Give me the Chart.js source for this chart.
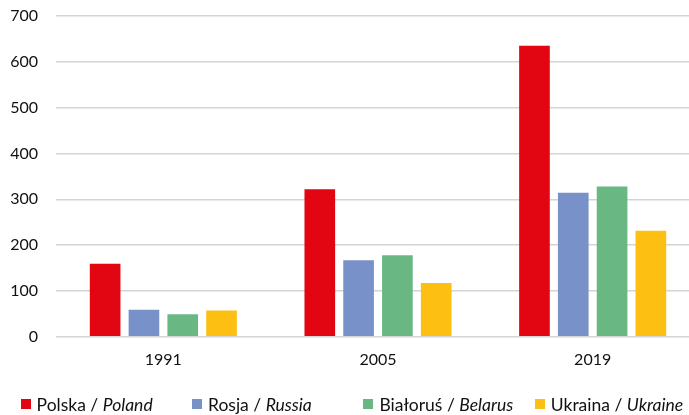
<!DOCTYPE html>
<html>
<head>
<meta charset="utf-8">
<script src="https://cdn.jsdelivr.net/npm/chart.js@4"></script>
<style>
  html, body { margin: 0; padding: 0; background: #fff; overflow: hidden; }
  #wrap { position: relative; width: 700px; height: 415px; }
  #legend { position: absolute; left: 0; top: 394px; height: 20px; font-family: Lato, "Liberation Sans", sans-serif; font-size: 17.5px; color: #111; }
  .item { position: absolute; top: 0; white-space: nowrap; display: flex; align-items: center; height: 20px; }
  .sw { width: 10px; height: 10px; margin-right: 6px; }
</style>
</head>
<body>
<div id="wrap">
  <canvas id="c" width="700" height="415"></canvas>
  <div id="legend"></div>
</div>
<script>
// Years on the category axis
const years = ['1991', '2005', '2019'];

// One series per country
const polska  = [159, 322, 635];
const rosja   = [59, 167, 314];
const bialorus = [49, 178, 328];
const ukraina = [57, 117, 231];

// Legend labels: Polish name, English name in italics
const namesPl = ['Polska', 'Rosja', 'Białoruś', 'Ukraina'];
const namesEn = ['Poland', 'Russia', 'Belarus', 'Ukraine'];
const colors = ['#e20613', '#7891c9', '#69b884', '#fcbf12'];

// Value axis
const yMin = 0, yMax = 700, yStep = 100;

const series = [polska, rosja, bialorus, ukraina];
const fontFamily = 'Lato, "Liberation Sans", sans-serif';

new Chart(document.getElementById('c'), {
  type: 'bar',
  data: {
    labels: years,
    datasets: series.map((vals, i) => ({
      label: namesPl[i] + ' / ' + namesEn[i],
      data: vals,
      backgroundColor: colors[i],
      borderWidth: 0,
      categoryPercentage: 0.723,
      barPercentage: 0.79
    }))
  },
  options: {
    responsive: false,
    animation: false,
    layout: { padding: { top: 16, left: 0, right: 0, bottom: 0 } },
    plugins: { legend: { display: false }, tooltip: { enabled: false } },
    scales: {
      x: {
        grid: { display: false, drawTicks: false },
        border: { display: false },
        ticks: { color: '#111', font: { family: fontFamily, size: 16 }, padding: 14 },
        afterFit: s => { s.height = 78.3; s.paddingLeft = 0; s.paddingRight = 0; }
      },
      y: {
        min: yMin, max: yMax,
        grid: { color: '#d4d4d4', lineWidth: 1.5, drawTicks: false },
        border: { display: false },
        ticks: { stepSize: yStep, color: '#111', font: { family: fontFamily, size: 16 }, padding: 18 },
        afterFit: s => { s.width = 56; s.paddingTop = 0; s.paddingBottom = 0; }
      }
    }
  }
});

// Legend with evenly pitched entries along the bottom
const legend = document.getElementById('legend');
namesPl.forEach((pl, i) => {
  const item = document.createElement('div');
  item.className = 'item';
  item.style.left = (20.6 + i * 171.4) + 'px';
  const sw = document.createElement('span');
  sw.className = 'sw';
  sw.style.background = colors[i];
  const txt = document.createElement('span');
  txt.innerHTML = pl + ' / <i>' + namesEn[i] + '</i>';
  item.appendChild(sw);
  item.appendChild(txt);
  legend.appendChild(item);
});
</script>
</body>
</html>
